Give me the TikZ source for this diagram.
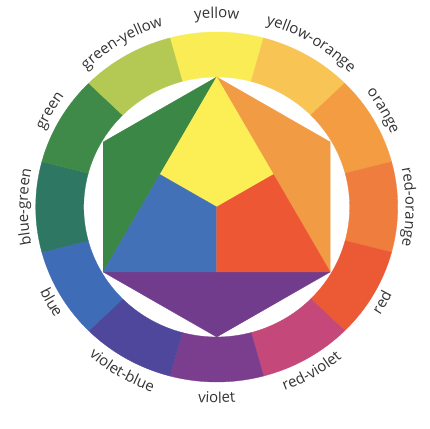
\documentclass[tikz,border=0pt]{standalone}
\usepackage{fontspec}
\setmainfont{Open Sans}
\usetikzlibrary{decorations.text}
\definecolor{cY}{HTML}{FAEC55}
\definecolor{cYO}{HTML}{F8C555}
\definecolor{cO}{HTML}{F39C42}
\definecolor{cRO}{HTML}{EF7D3E}
\definecolor{cR}{HTML}{EB5A35}
\definecolor{cRV}{HTML}{C4487A}
\definecolor{cV}{HTML}{7B3D8E}
\definecolor{cVB}{HTML}{4F479B}
\definecolor{cB}{HTML}{3F6CB6}
\definecolor{cBG}{HTML}{2E7763}
\definecolor{cG}{HTML}{3F8A48}
\definecolor{cGY}{HTML}{B3C954}
\definecolor{hY}{HTML}{FCEF55}
\definecolor{hO}{HTML}{F29B45}
\definecolor{hR}{HTML}{EE5734}
\definecolor{hB}{HTML}{4271B8}
\definecolor{hG}{HTML}{3B8745}
\definecolor{hV}{HTML}{723C8D}
\definecolor{txt}{HTML}{333333}
\newcommand{\lblfont}{\fontsize{15}{18}\selectfont\color{txt}}
\tikzset{
  seg/.style={fill=#1, draw=#1, line width=0.3pt},
  face/.style={fill=#1, draw=#1, line width=0.3pt, line join=round},
}
\begin{document}
\begin{tikzpicture}[x=1pt,y=1pt]
\useasboundingbox (0,0) rectangle (430,428);
\fill[white] (0,0) rectangle (430,428);
\begin{scope}[shift={(216.7,221)}]
  % ring
  \foreach \a/\c in {90/cY, 60/cYO, 30/cO, 0/cRO, -30/cR, -60/cRV, -90/cV, -120/cVB, -150/cB, 180/cBG, 150/cG, 120/cGY}{
    \pgfmathsetmacro\s{\a-15}
    \pgfmathsetmacro\e{\a+15}
    \path[seg=\c] (\s:181pt and 175pt) arc[start angle=\s, end angle=\e, x radius=181pt, y radius=175pt]
      -- (\e:133pt and 130pt) arc[start angle=\e, end angle=\s, x radius=133pt, y radius=130pt] -- cycle;
  }
  % hexagon
  \coordinate (T) at (0,130);
  \coordinate (UL) at (-113.5,65);
  \coordinate (LL) at (-113.5,-65);
  \coordinate (B) at (0,-130);
  \coordinate (UR) at (113.5,65);
  \coordinate (LR) at (113.5,-65);
  \coordinate (ML) at (-56.75,32.5);
  \coordinate (MR) at (56.75,32.5);
  \coordinate (MB) at (0,-65);
  \coordinate (C) at (0,0);
  \path[face=hG] (T) -- (UL) -- (LL) -- cycle;
  \path[face=hO] (T) -- (UR) -- (LR) -- cycle;
  \path[face=hV] (LL) -- (B) -- (LR) -- cycle;
  \path[face=hY] (T) -- (ML) -- (C) -- (MR) -- cycle;
  \path[face=hB] (ML) -- (LL) -- (MB) -- (C) -- cycle;
  \path[face=hR] (MR) -- (C) -- (MB) -- (LR) -- cycle;
  % labels, upper half (clockwise)
  \foreach \a/\t in {90/yellow, 60/yellow-orange, 30/orange, 0/red-orange, 120/green-yellow, 150/green, 180/blue-green}{
    \pgfmathsetmacro\s{\a+30}
    \pgfmathsetmacro\e{\a-30}
    \path[decorate, decoration={text along path, text align=center, text={|\lblfont|\t}}]
      (\s:189pt) arc[start angle=\s, end angle=\e, radius=189pt];
  }
  % labels, lower half (counter-clockwise)
  \foreach \a/\t in {-150/blue, -120/violet-blue, -90/violet, -60/red-violet, -30/red}{
    \pgfmathsetmacro\s{\a-30}
    \pgfmathsetmacro\e{\a+30}
    \path[decorate, decoration={text along path, text align=center, text={|\lblfont|\t}}]
      (\s:196pt) arc[start angle=\s, end angle=\e, radius=196pt];
  }
\end{scope}
\end{tikzpicture}
\end{document}
